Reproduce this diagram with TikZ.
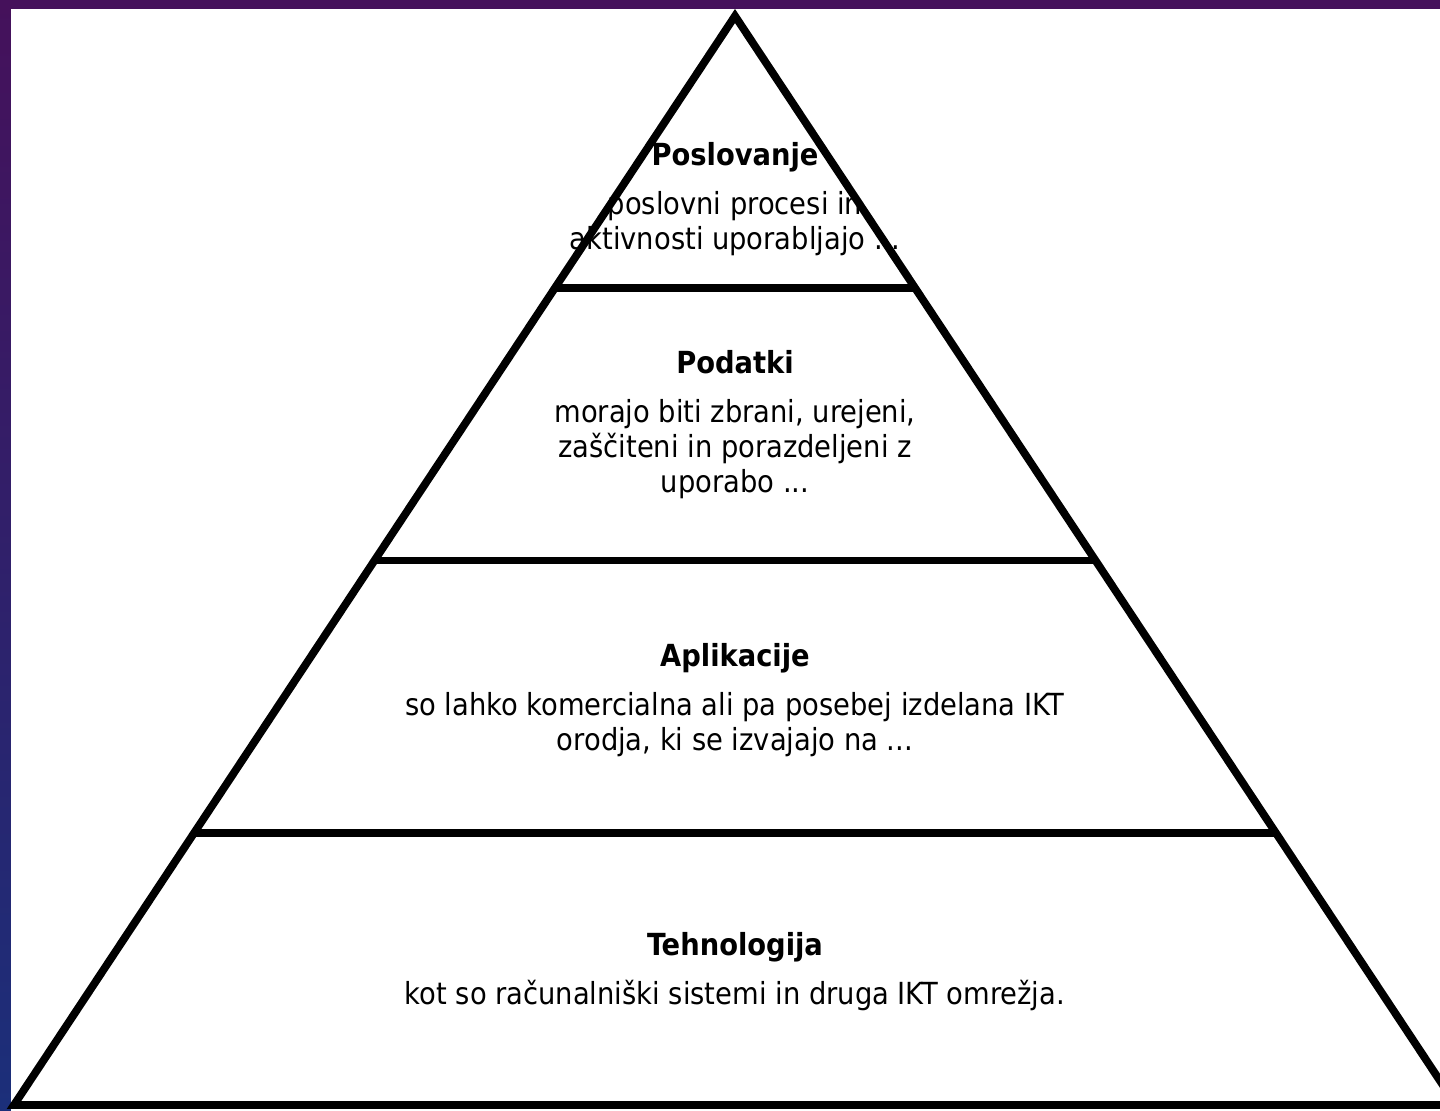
\documentclass[tikz,border=0pt]{standalone}
\usepackage{fontspec}
\setmainfont{DejaVu Sans Condensed}
\usetikzlibrary{calc}
\definecolor{bgtop}{HTML}{45115B}
\definecolor{bgbottom}{HTML}{1B2F7A}
\begin{document}
\begin{tikzpicture}[
  x=0.5pt, y=-0.5pt,
  tier/.style={align=center, inner sep=0pt, font=\fontsize{15.2}{17.5}\selectfont},
  edge/.style={line width=3.9pt, line join=miter}
]
\shade[top color=bgtop, bottom color=bgbottom] (0,0) rectangle (1440,1111);
\fill[white] (11,9) rectangle (1440,1111);
\useasboundingbox (0,0) rectangle (1440,1111);
% pyramid outline
\coordinate (apex) at (735,16);
\coordinate (bl) at (14,1105);
\coordinate (br) at (1456,1105);
\draw[edge] (bl) -- (apex) -- (br) -- cycle;
\foreach \f in {0.25,0.5,0.75}
  \draw[edge] ($(apex)!\f!(bl)$) -- ($(apex)!\f!(br)$);
% tiers
\node[tier] (poslovanje) at (735,199) {\textbf{Poslovanje}\\[7pt]poslovni procesi in\\aktivnosti uporabljajo ...};
\node[tier] (podatki) at (735,425) {\textbf{Podatki}\\[7pt]morajo biti zbrani, urejeni,\\zaščiteni in porazdeljeni z\\uporabo ...};
\node[tier] (aplikacije) at (735,700) {\textbf{Aplikacije}\\[7pt]so lahko komercialna ali pa posebej izdelana IKT\\orodja, ki se izvajajo na ...};
\node[tier] (tehnologija) at (735,972) {\textbf{Tehnologija}\\[7pt]kot so računalniški sistemi in druga IKT omrežja.};
\end{tikzpicture}
\end{document}
